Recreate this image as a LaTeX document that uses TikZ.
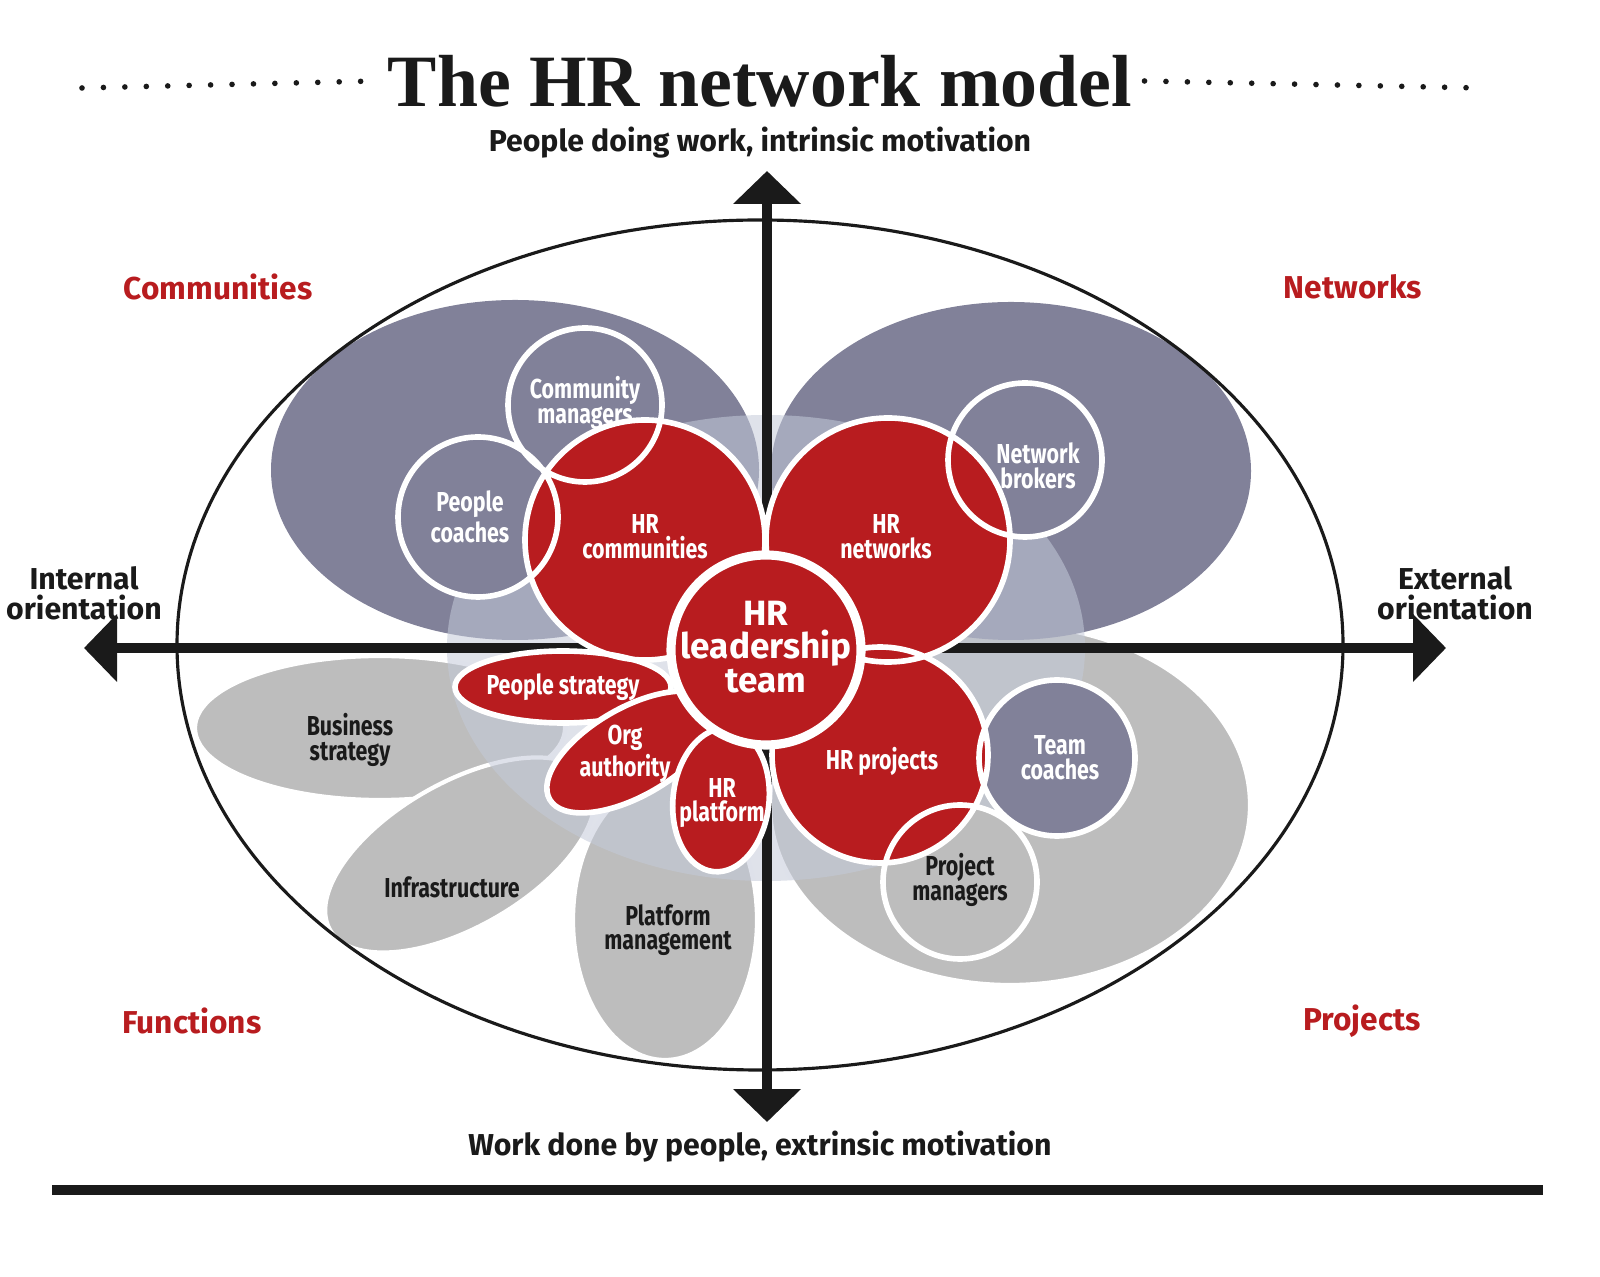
\documentclass[tikz,border=0pt]{standalone}
\usepackage{fontspec}
\setmainfont{Fira Sans}
\newfontfamily\cond[FakeStretch=0.78]{Fira Sans}
\newfontfamily\titlefont{Liberation Serif}
\usetikzlibrary{arrows.meta}
\definecolor{hrRed}{HTML}{B81C1F}
\definecolor{hrDark}{HTML}{818199}
\definecolor{hrGrey}{HTML}{BDBDBD}
\definecolor{hrLight}{HTML}{C4CAD9}
\definecolor{hrInk}{HTML}{1A1A1A}
\tikzset{
  grey blob/.style={fill=hrGrey, draw=white, line width=1.2pt},
  dark blob/.style={fill=hrDark},
  ring/.style={draw=white, line width=1.6pt},
  in label/.style={text=white, font=\cond\bfseries\fontsize{7.8}{7}\selectfont, align=center},
  out label/.style={text=hrInk, font=\cond\bfseries\fontsize{7.8}{7}\selectfont, align=center},
  axis label/.style={text=hrInk, font=\bfseries\fontsize{8.6}{8.6}\selectfont, align=center},
  zone label/.style={text=hrRed, font=\bfseries\fontsize{9}{9}\selectfont},
  axis/.style={draw=hrInk, line width=2.8pt, -{Triangle[width=0.66cm,length=0.33cm]}}
}
\begin{document}
\begin{tikzpicture}
  \useasboundingbox (0,0) rectangle (16,12.76);
  %%%%%%%%%%%%% background blobs
  \draw[grey blob] (3.80,5.48) ellipse [x radius=1.85, y radius=0.72];
  \draw[grey blob, rotate around={30:(4.60,4.21)}] (4.60,4.21) ellipse [x radius=1.50, y radius=0.72];
  \draw[grey blob] (6.65,3.56) ellipse [x radius=0.92, y radius=1.40];
  \draw[grey blob] (10.10,4.71) ellipse [x radius=2.40, y radius=1.80];
  \fill[dark blob] (5.15,8.06) ellipse [x radius=2.44, y radius=1.70];
  \fill[dark blob] (10.11,8.05) ellipse [x radius=2.40, y radius=1.69];
  \fill[hrLight, opacity=0.55] (7.66,6.28) ellipse [x radius=3.19, y radius=2.33];
  \draw[hrInk, line width=0.9pt] (7.60,6.31) ellipse [x radius=5.83, y radius=4.25];
  %%%%%%%%%%%%% axes
  \coordinate (top) at (7.67,11.05); \coordinate (bottom) at (7.67,1.54);
  \coordinate (left) at (0.84,6.28); \coordinate (right) at (14.46,6.28);
  \coordinate (mid) at (7.67,6.28);
  \draw[axis] (mid) -- (top); \draw[axis] (mid) -- (bottom);
  \draw[axis] (mid) -- (left); \draw[axis] (mid) -- (right);
  %%%%%%%%%%%%% circles
  \fill[hrDark] (5.85,8.71) circle (0.77);
  \fill[hrDark] (4.78,7.59) circle (0.80);
  \fill[hrDark] (10.25,8.16) circle (0.77);
  \fill[hrDark] (10.57,5.18) circle (0.78);
  \fill[hrGrey] (9.60,3.94) circle (0.77);
  \fill[hrRed] (6.45,7.36) circle (1.20);
  \fill[hrRed] (8.88,7.36) circle (1.22);
  \fill[hrRed] (8.80,5.21) circle (1.08);
  \draw[ring, fill=hrRed] (5.63,5.89) ellipse [x radius=1.08, y radius=0.36];
  \draw[ring, fill=hrRed, rotate around={30:(6.32,5.24)}] (6.32,5.24) ellipse [x radius=0.95, y radius=0.44];
  \draw[ring, fill=hrRed, rotate around={-6:(7.21,4.76)}] (7.21,4.76) ellipse [x radius=0.48, y radius=0.72];
  \draw[ring] (5.85,8.71) circle (0.77) (4.78,7.59) circle (0.80)
    (10.25,8.16) circle (0.77) (10.57,5.18) circle (0.78) (9.60,3.94) circle (0.77)
    (6.45,7.36) circle (1.20) (8.88,7.36) circle (1.22) (8.80,5.21) circle (1.08);
  \draw[ring, fill=hrRed, line width=2.6pt] (7.66,6.26) circle (0.95);
  %%%%%%%%%%%%% labels
  \node[in label] (cm) at (5.85,8.73) {Community\\managers};
  \node[in label] (pc) at (4.70,7.59) {People\\coaches};
  \node[in label] (hrc) at (6.45,7.39) {HR\\communities};
  \node[in label] (hrn) at (8.86,7.39) {HR\\networks};
  \node[in label] (nb) at (10.38,8.10) {Network\\brokers};
  \node[in label] (tc) at (10.60,5.18) {Team\\coaches};
  \node[in label] (hrp) at (8.82,5.15) {HR projects};
  \node[out label] (pm) at (9.60,3.96) {Project\\managers};
  \node[in label] (ps) at (5.63,5.89) {People strategy};
  \node[in label] (oa) at (6.25,5.22) {Org\\authority};
  \node[in label] (hpl) at (7.22,4.73) {HR\\platform};
  \node[text=white, font=\bfseries\fontsize{10}{9.6}\selectfont, align=center] (hrl) at (7.66,6.29) {HR\\leadership\\team};
  \node[out label] (bs) at (3.50,5.36) {Business\\strategy};
  \node[out label] (inf) at (4.52,3.89) {Infrastructure};
  \node[out label] (plm) at (6.68,3.46) {Platform\\management};
  %%%%%%%%%%%%% outer texts
  \node[font=\titlefont\bfseries\fontsize{21}{21}\selectfont, text=hrInk] (title) at (7.60,11.95) {The HR network model};
  \draw[hrInk, line width=1.6pt, line cap=round, dash pattern=on 0pt off 6.1pt] (0.82,11.88) -- (title.west);
  \draw[hrInk, line width=1.6pt, line cap=round, dash pattern=on 0pt off 6.1pt] (title.east) -- (14.80,11.88);
  \node[axis label] (up) at (7.60,11.33) {People doing work, intrinsic motivation};
  \node[axis label] (down) at (7.60,1.29) {Work done by people, extrinsic motivation};
  \node[axis label] (int) at (0.84,6.83) {Internal\\orientation};
  \node[axis label] (ext) at (14.55,6.83) {External\\orientation};
  \node[zone label] (com) at (2.18,9.89) {Communities};
  \node[zone label] (net) at (13.53,9.89) {Networks};
  \node[zone label] (fun) at (1.92,2.55) {Functions};
  \node[zone label] (pro) at (13.62,2.55) {Projects};
  \coordinate (ruleL) at (0.52,0.86); \coordinate (ruleR) at (15.43,0.86);
  \draw[hrInk, line width=3pt] (ruleL) -- (ruleR);
\end{tikzpicture}
\end{document}
